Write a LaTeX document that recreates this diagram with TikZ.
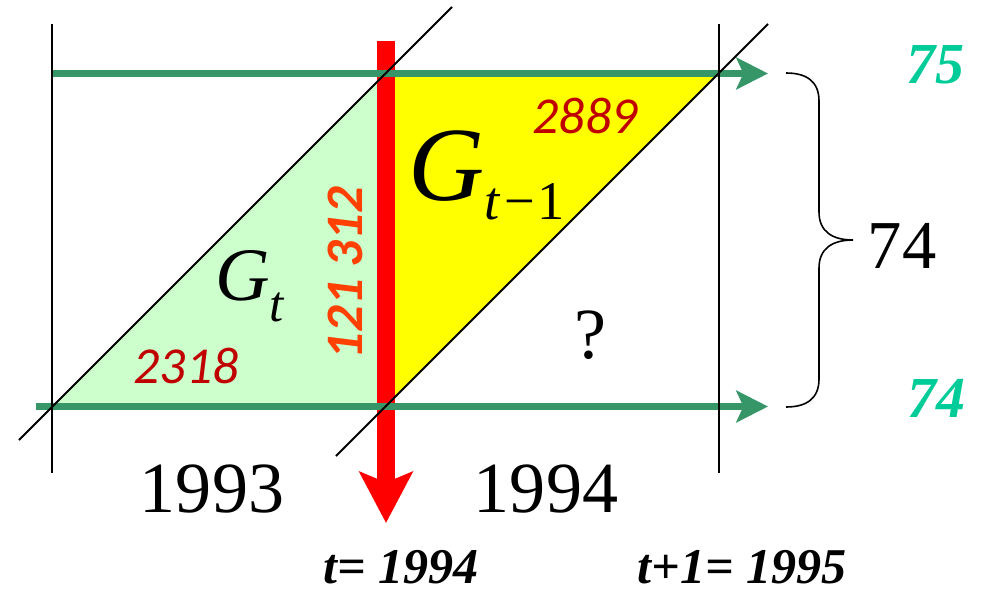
\documentclass[tikz,border=0pt]{standalone}
\usepackage{fontspec}
\setmainfont{Liberation Serif}
\newfontfamily\calibrifont{Carlito}
\usepackage{xcolor}
\usepackage{tikz}
\usetikzlibrary{arrows.meta, positioning, calc}

\definecolor{flowgreen}{RGB}{54,150,104}
\definecolor{agegreen}{RGB}{0,204,153}
\definecolor{countred}{RGB}{192,0,0}
\definecolor{birthred}{RGB}{255,64,0}
\definecolor{cohortgreen}{RGB}{204,255,204}
\definecolor{cohortyellow}{RGB}{255,255,0}

\begin{document}
\begin{tikzpicture}[x=0.02cm, y=-0.02cm, inner sep=0pt,
        lifeline/.style={line width=1.1pt},
        yearline/.style={line width=0.85pt},
        ageflow/.style={draw=flowgreen, line width=4pt, -{Stealth[length=18pt, width=18pt, inset=4pt]}},
        cutarrow/.style={draw=red, line width=10pt, -{Stealth[length=29pt, width=30pt, inset=6pt]}},
        year/.style={font=\fontsize{41}{41}\selectfont, anchor=base},
        moment/.style={font=\fontsize{28.5}{28.5}\selectfont\bfseries\itshape, anchor=base},
        age/.style={font=\fontsize{33}{33}\selectfont\bfseries\itshape, text=agegreen, anchor=base},
        count/.style={font=\calibrifont\fontsize{29.5}{29.5}\selectfont\itshape, text=countred, anchor=base}
    ]
        \useasboundingbox (0,0) rectangle (982,595);

        % Corners of the two triangles
        \coordinate (a) at (52,407);
        \coordinate (b) at (385,407);
        \coordinate (c) at (385,73);
        \coordinate (d) at (719,73);

        % Cohort areas
        \fill [cohortgreen] (a) -- (c) -- (b) -- cycle;
        \fill [cohortyellow] (c) -- (d) -- (b) -- cycle;

        % Census moment
        \coordinate (cuttop) at (386,41);
        \coordinate (cutend) at (386,523);
        \draw [cutarrow] (cuttop) -- (cutend);

        % Age lines
        \coordinate (top0) at (52,73.5);
        \coordinate (top1) at (768,73.5);
        \coordinate (bot0) at (36,406.5);
        \coordinate (bot1) at (768,406.5);
        \draw [ageflow] (top0) -- (top1);
        \draw [ageflow] (bot0) -- (bot1);

        % Life lines
        \coordinate (dl0) at (19,440);
        \coordinate (dl1) at (452,7);
        \coordinate (dr0) at (336,456);
        \coordinate (dr1) at (768,24);
        \draw [lifeline] (dl0) -- (dl1);
        \draw [lifeline] (dr0) -- (dr1);

        % Year borders
        \coordinate (ya0) at (52,24);
        \coordinate (ya1) at (52,473);
        \coordinate (yb0) at (719,24);
        \coordinate (yb1) at (719,473);
        \draw [yearline] (ya0) -- (ya1);
        \draw [yearline] (yb0) -- (yb1);

        % Brace
        \coordinate (bt) at (786,73);
        \draw [line width=0.9pt] (bt) .. controls +(20,0) and +(0,-20) .. ++(33,28) -- ++(0,111)
            .. controls +(0,20) and +(-20,0) .. ++(34,28) .. controls +(-20,0) and +(0,-20) .. ++(-34,28)
            -- ++(0,111) .. controls +(0,20) and +(20,0) .. ++(-33,28);

        % Labels
        \node (gt) [anchor=base west, font=\fontsize{43}{43}\selectfont] at (215,300) {\itshape G\raisebox{-12.5pt}{\fontsize{29}{29}\selectfont t}};
        \node (gt1) [anchor=base west, font=\fontsize{60}{60}\selectfont] at (408,200) {\itshape G\raisebox{-11pt}{\fontsize{31}{31}\selectfont t\upshape\kern3pt −\kern1pt 1}};
        \node (n2889) [count] at (585,133) {2889};
        \node (n2318) [count] at (186,383) {2318};
        \node (births) [rotate=90, text=birthred, font=\calibrifont\fontsize{30}{30}\selectfont\bfseries\itshape] at (345,273) {121 312};
        \node (unknown) [year] at (590,358) {?};
        \node (y1993) [year] at (212,512) {1993};
        \node (y1994) [year] at (546,512) {1994};
        \node (tnow) [moment] at (401,583) {t= 1994};
        \node (tnext) [moment] at (742,583) {t+1= 1995};
        \node (age75) [age] at (935,83) {75};
        \node (age74) [age] at (936,417) {74};
        \node (span) [year, font=\fontsize{39}{39}\selectfont] at (902,268) {74};
    \end{tikzpicture}
\end{document}
